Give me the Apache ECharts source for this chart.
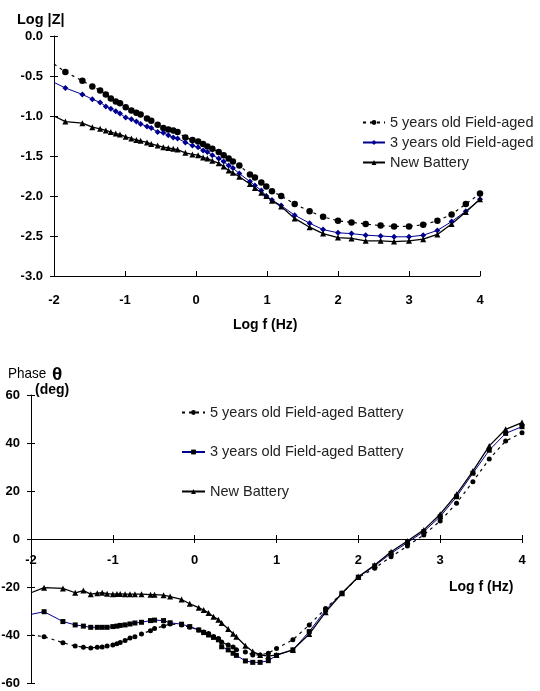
<!DOCTYPE html>
<html>
<head>
<meta charset="utf-8">
<script src="https://cdn.jsdelivr.net/npm/echarts@6/dist/echarts.min.js"></script>
<style>
  html, body { margin: 0; padding: 0; background: #fff; }
  #main { width: 540px; height: 691px; }
</style>
</head>
<body>
<div id="main"></div>
<script>
// impedance magnitude, log|Z| vs log f
const logFZ = [-2, -1.84, -1.6, -1.46, -1.35, -1.27, -1.2, -1.13, -1.07, -0.99, -0.91, -0.84, -0.78, -0.69, -0.63, -0.54, -0.46, -0.39, -0.32, -0.26, -0.15, -0.05, 0.03, 0.1, 0.16, 0.23, 0.32, 0.39, 0.46, 0.52, 0.61, 0.76, 0.83, 0.92, 0.99, 1.07, 1.2, 1.39, 1.6, 1.79, 2.0, 2.19, 2.39, 2.6, 2.79, 3.0, 3.2, 3.4, 3.6, 3.8, 4.0];
const zOld5 = [-0.35, -0.45, -0.56, -0.63, -0.68, -0.73, -0.78, -0.82, -0.84, -0.89, -0.93, -0.96, -0.98, -1.03, -1.06, -1.11, -1.15, -1.17, -1.18, -1.20, -1.27, -1.30, -1.32, -1.35, -1.38, -1.41, -1.45, -1.49, -1.53, -1.57, -1.62, -1.73, -1.77, -1.83, -1.88, -1.94, -2.0, -2.10, -2.19, -2.26, -2.31, -2.33, -2.35, -2.37, -2.38, -2.38, -2.36, -2.31, -2.23, -2.10, -1.97];
const zOld3 = [-0.58, -0.65, -0.73, -0.79, -0.83, -0.88, -0.91, -0.94, -0.97, -1.02, -1.04, -1.07, -1.10, -1.13, -1.15, -1.20, -1.21, -1.24, -1.27, -1.28, -1.33, -1.37, -1.39, -1.43, -1.45, -1.49, -1.53, -1.57, -1.62, -1.65, -1.72, -1.82, -1.87, -1.93, -2.0, -2.05, -2.12, -2.24, -2.34, -2.42, -2.46, -2.47, -2.49, -2.50, -2.51, -2.51, -2.49, -2.43, -2.32, -2.19, -2.04];
const zNew = [-1.0, -1.07, -1.09, -1.14, -1.16, -1.18, -1.20, -1.22, -1.23, -1.26, -1.28, -1.30, -1.31, -1.33, -1.35, -1.37, -1.39, -1.40, -1.41, -1.42, -1.46, -1.48, -1.49, -1.52, -1.53, -1.56, -1.59, -1.63, -1.68, -1.71, -1.76, -1.85, -1.90, -1.96, -2.0, -2.06, -2.13, -2.28, -2.39, -2.47, -2.52, -2.53, -2.56, -2.56, -2.57, -2.56, -2.54, -2.48, -2.35, -2.20, -2.04];

// phase angle vs log f
const logFP = [-2, -1.84, -1.61, -1.46, -1.36, -1.27, -1.19, -1.13, -1.07, -1.0, -0.95, -0.91, -0.85, -0.79, -0.73, -0.65, -0.54, -0.49, -0.38, -0.30, -0.16, -0.06, 0.05, 0.11, 0.17, 0.23, 0.29, 0.33, 0.41, 0.47, 0.51, 0.62, 0.71, 0.80, 0.90, 1.0, 1.2, 1.4, 1.6, 1.8, 2.0, 2.2, 2.4, 2.6, 2.8, 3.0, 3.2, 3.4, 3.6, 3.8, 4.0];
const phOld5 = [-40, -40.7, -43.2, -44.6, -45.1, -45.4, -45.1, -45, -44.6, -44.2, -43.6, -43.1, -42.3, -41.3, -40.7, -39.6, -38.2, -37.3, -36.3, -35.4, -35.8, -36.8, -37.9, -38.7, -39.4, -40.6, -41.5, -42.9, -44.2, -45, -46.1, -47.1, -48.3, -48.3, -47.6, -45.6, -42, -35.8, -29, -22.6, -16, -12.2, -7.4, -2.9, 1.7, 7.5, 14.9, 23.9, 33.3, 40.8, 44.3];
const phOld3 = [-31.4, -30.3, -34.4, -35.8, -36.3, -36.8, -36.8, -36.8, -36.8, -36.5, -36.3, -36, -35.8, -35.4, -35, -34.7, -34, -33.8, -34, -34.9, -35.5, -36.5, -37.9, -39, -40, -41, -42, -44.9, -46.2, -47.6, -48.5, -50.8, -51.4, -51.4, -50.7, -48.5, -46.2, -38.6, -29.6, -22.6, -15.9, -11.2, -6.0, -1.5, 3.1, 9.3, 17.6, 27.4, 37, 44, 46.8];
const phNew = [-22.4, -20.3, -20.6, -22.4, -21.5, -23.0, -22.6, -22.4, -22.8, -23, -22.9, -22.9, -23, -23, -23, -23, -23.2, -23.2, -23.4, -24, -25.2, -27, -28.6, -29.6, -30.8, -32.4, -33.6, -35, -37.5, -39.5, -40.7, -44.5, -46.9, -48.3, -48.8, -48.3, -46.2, -39.6, -30.5, -22.6, -15.7, -10.8, -5.3, -0.8, 3.8, 10.3, 18.6, 28.3, 38.8, 45.7, 48.5];

const topNames = ["5 years old Field-aged", "3 years old Field-aged", "New Battery"];
const botNames = ["5 years old Field-aged Battery", "3 years old Field-aged Battery", "New Battery "];

const FONT = "Arial, 'Liberation Sans', sans-serif";
const BLUE = "#000090";

// first point sits on the axis, the source plots no marker there
function pairs(xs, ys) {
  return xs.map((x, i) => i === 0 ? { value: [x, ys[i]], symbol: "none" } : [x, ys[i]]);
}

function lineSeries(name, xi, yi, xs, ys, sym, size, color, lineColor, dash, width) {
  return {
    name: name,
    type: "line",
    xAxisIndex: xi,
    yAxisIndex: yi,
    data: pairs(xs, ys),
    symbol: sym,
    symbolSize: size,
    showAllSymbol: true,
    itemStyle: { color: color },
    lineStyle: { color: lineColor, width: width, type: dash },
    z: 3
  };
}

const axisLbl = { color: "#000", fontFamily: FONT, fontWeight: "bold", fontSize: 13 };
const tickStyle = { color: "#000", width: 1 };
const noLine = { show: false, onZero: false };
// phase x axis sits on the 0 deg line: grid bottom is 683, zero is at 539
const phaseAxisOffset = -144;

const chart = echarts.init(document.getElementById("main"), null, { renderer: "canvas" });

const option = {
  animation: false,
  backgroundColor: "#fff",
  grid: [
    { left: 54, top: 36, width: 426, height: 240, outerBoundsMode: "none", containLabel: false },
    { left: 31, top: 395, width: 491, height: 288, outerBoundsMode: "none", containLabel: false }
  ],
  xAxis: [
    { gridIndex: 0, type: "value", min: -2, max: 4, interval: 1, position: "bottom",
      axisLine: { onZero: false, lineStyle: tickStyle },
      axisTick: { inside: true, length: 5, lineStyle: tickStyle },
      axisLabel: Object.assign({ margin: 18 }, axisLbl), splitLine: { show: false } },
    { gridIndex: 1, type: "value", min: -2, max: 4, interval: 1, position: "bottom", offset: phaseAxisOffset,
      axisLine: { onZero: false, lineStyle: tickStyle },
      axisTick: { length: 4, lineStyle: tickStyle },
      axisLabel: Object.assign({ margin: 15 }, axisLbl), splitLine: { show: false } },
    { gridIndex: 1, type: "value", min: -2, max: 4, interval: 1, position: "bottom", offset: phaseAxisOffset,
      axisLine: noLine,
      axisTick: { inside: true, length: 4, lineStyle: tickStyle },
      axisLabel: { show: false }, splitLine: { show: false } }
  ],
  yAxis: [
    { gridIndex: 0, type: "value", min: -3, max: 0, interval: 0.5, position: "left",
      axisLine: { show: true, onZero: false, lineStyle: tickStyle },
      axisTick: { show: true, length: 4, lineStyle: tickStyle },
      axisLabel: Object.assign({ margin: 11, formatter: v => v.toFixed(1) }, axisLbl),
      splitLine: { show: false } },
    { gridIndex: 0, type: "value", min: -3, max: 0, interval: 0.5, position: "left",
      axisLine: noLine, axisTick: { show: true, inside: true, length: 4, lineStyle: tickStyle },
      axisLabel: { show: false }, splitLine: { show: false } },
    { gridIndex: 1, type: "value", min: -60, max: 60, interval: 20, position: "left",
      axisLine: { show: true, onZero: false, lineStyle: tickStyle },
      axisTick: { show: true, length: 4, lineStyle: tickStyle },
      axisLabel: Object.assign({ margin: 11 }, axisLbl), splitLine: { show: false } },
    { gridIndex: 1, type: "value", min: -60, max: 60, interval: 20, position: "left",
      axisLine: noLine, axisTick: { show: true, inside: true, length: 4, lineStyle: tickStyle },
      axisLabel: { show: false }, splitLine: { show: false } }
  ],
  legend: [
    { data: topNames, orient: "vertical", left: 362, top: 115, padding: 0, itemWidth: 22, itemHeight: 6, itemGap: 5,
      textStyle: { color: "#222", fontFamily: FONT, fontSize: 14.5 } },
    { data: botNames, orient: "vertical", left: 181, top: 405, padding: 0, itemWidth: 23, itemHeight: 6, itemGap: 24.5,
      textStyle: { color: "#222", fontFamily: FONT, fontSize: 14.5 } }
  ],
  graphic: [
    { type: "text", left: 17, top: 12, style: { text: "Log |Z|", font: "bold 14.5px " + FONT, fill: "#000" } },
    { type: "text", left: 233, top: 318, style: { text: "Log f (Hz)", font: "bold 14px " + FONT, fill: "#000" } },
    { type: "text", left: 449, top: 580, style: { text: "Log f (Hz)", font: "bold 14px " + FONT, fill: "#000" } },
    { type: "text", x: 8, y: 366, scaleX: 0.9, style: { text: "Phase", font: "15px " + FONT, fill: "#000" } },
    { type: "text", left: 52, top: 365, style: { text: "θ", font: "bold 19px " + FONT, fill: "#000" } },
    { type: "text", left: 35, top: 383, style: { text: "(deg)", font: "bold 14px " + FONT, fill: "#000" } }
  ],
  series: [
    lineSeries(topNames[0], 0, 0, logFZ, zOld5, "circle", 6.5, "#000", "#000", [3, 4], 1.2),
    lineSeries(topNames[1], 0, 0, logFZ, zOld3, "diamond", 6, BLUE, BLUE, "solid", 1),
    lineSeries(topNames[2], 0, 0, logFZ, zNew, "triangle", 6, "#000", "#000", "solid", 1.3),
    lineSeries(botNames[0], 1, 2, logFP, phOld5, "circle", 5, "#000", "#000", [3, 4], 1.2),
    lineSeries(botNames[1], 1, 2, logFP, phOld3, "rect", 5, "#000", BLUE, "solid", 1),
    lineSeries(botNames[2], 1, 2, logFP, phNew, "triangle", 6, "#000", "#000", "solid", 1.3)
  ]
};

chart.setOption(option);
</script>
</body>
</html>
